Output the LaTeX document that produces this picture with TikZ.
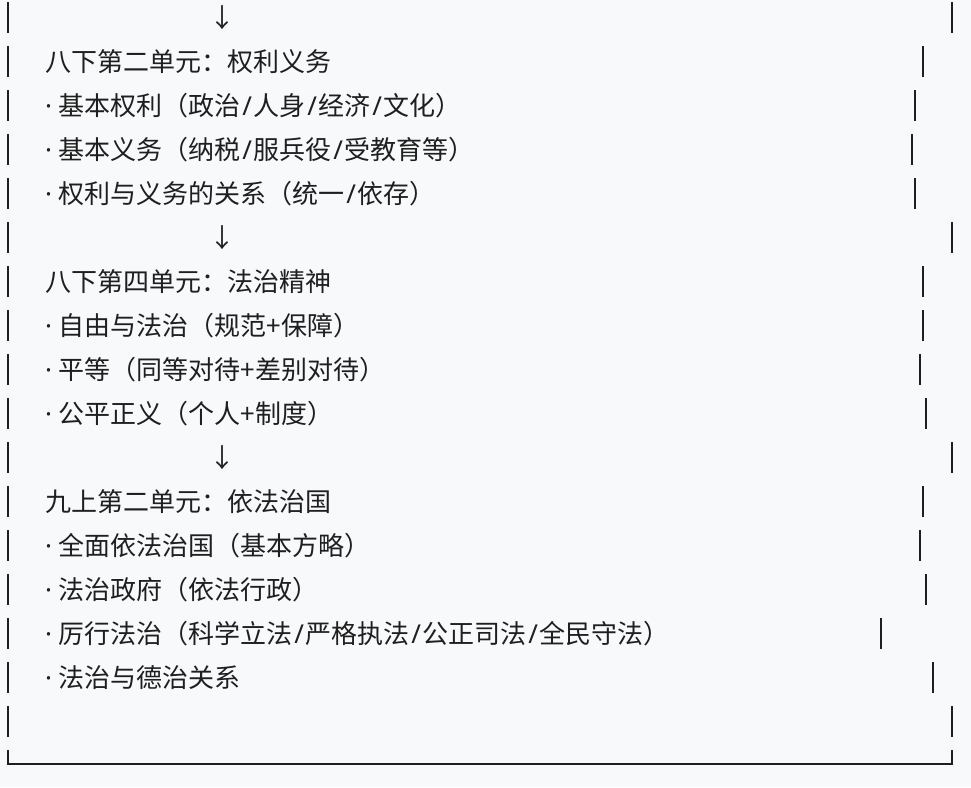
\documentclass[tikz,border=0pt]{standalone}
\usepackage{fontspec}
\setmainfont{Noto Sans CJK SC}
\newfontfamily\latinfont{Noto Sans}
\usepackage{xcolor}
\definecolor{pagebg}{HTML}{F8F9FB}
\definecolor{inkgray}{HTML}{1F1F1F}
\newcommand{\bul}{{\latinfont ·}\hspace{6.7pt}}
\newcommand{\slh}{\makebox[13pt]{\latinfont /}}

\begin{document}
\begin{tikzpicture}[x=1pt,y=-1pt,
  every node/.style={inner sep=0pt,outer sep=0pt,text=inkgray,font=\fontsize{26}{30}\selectfont},
  txt/.style={anchor=base west},
  arr/.style={anchor=base},
  bar/.style={draw=inkgray,line width=1.8pt}]

\fill[pagebg] (0,0) rectangle (971,787);
\useasboundingbox (0,0) rectangle (971,787);

\node[arr] (downA) at (222.5,27.5) {↓};

\node[txt] (unitA) at (45,71.5) {八下第二单元：权利义务};
\node[txt] (unitA1) at (45,115.5) {\bul 基本权利（政治\slh 人身\slh 经济\slh 文化）};
\node[txt] (unitA2) at (45,159.5) {\bul 基本义务（纳税\slh 服兵役\slh 受教育等）};
\node[txt] (unitA3) at (45,203.5) {\bul 权利与义务的关系（统一\slh 依存）};

\node[arr] (downB) at (222.5,247.5) {↓};

\node[txt] (unitB) at (45,291.5) {八下第四单元：法治精神};
\node[txt] (unitB1) at (45,335.5) {\bul 自由与法治（规范+保障）};
\node[txt] (unitB2) at (45,379.5) {\bul 平等（同等对待+差别对待）};
\node[txt] (unitB3) at (45,423.5) {\bul 公平正义（个人+制度）};

\node[arr] (downC) at (222.5,467.5) {↓};

\node[txt] (unitC) at (45,511.5) {九上第二单元：依法治国};
\node[txt] (unitC1) at (45,555.5) {\bul 全面依法治国（基本方略）};
\node[txt] (unitC2) at (45,599.5) {\bul 法治政府（依法行政）};
\node[txt] (unitC3) at (45,643.5) {\bul 厉行法治（科学立法\slh 严格执法\slh 公正司法\slh 全民守法）};
\node[txt] (unitC4) at (45,687.5) {\bul 法治与德治关系};

\draw[bar] (8,2) -- (8,33) (951.7,2) -- (951.7,33);
\draw[bar] (8,46) -- (8,77) (923,46) -- (923,77);
\draw[bar] (8,90) -- (8,121) (915,90) -- (915,121);
\draw[bar] (8,134) -- (8,165) (912,134) -- (912,165);
\draw[bar] (8,178) -- (8,209) (915,178) -- (915,209);
\draw[bar] (8,222) -- (8,253) (951.7,222) -- (951.7,253);
\draw[bar] (8,266) -- (8,297) (923,266) -- (923,297);
\draw[bar] (8,310) -- (8,341) (923,310) -- (923,341);
\draw[bar] (8,354) -- (8,385) (920,354) -- (920,385);
\draw[bar] (8,398) -- (8,429) (925.7,398) -- (925.7,429);
\draw[bar] (8,442) -- (8,473) (951.7,442) -- (951.7,473);
\draw[bar] (8,486) -- (8,517) (923,486) -- (923,517);
\draw[bar] (8,530) -- (8,561) (920,530) -- (920,561);
\draw[bar] (8,574) -- (8,605) (925.7,574) -- (925.7,605);
\draw[bar] (8,618) -- (8,649) (880.7,618) -- (880.7,649);
\draw[bar] (8,662) -- (8,693) (933.3,662) -- (933.3,693);
\draw[bar] (8,706) -- (8,737) (951.7,706) -- (951.7,737);

\draw[bar] (8,750) -- (8,764) -- (951.7,764) -- (951.7,750);

\end{tikzpicture}
\end{document}
